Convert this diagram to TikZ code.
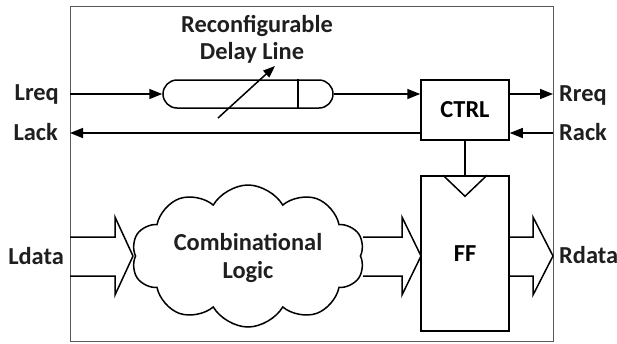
\documentclass[tikz,border=0pt]{standalone}
\usepackage{fontspec}
\setmainfont{Carlito}
\usetikzlibrary{arrows.meta,shapes.symbols,calc}
\begin{document}
\begin{tikzpicture}[x=1bp,y=-1bp,
  font=\fontsize{24.5}{28}\selectfont\bfseries,
  wire/.style={line width=1.5bp, line join=miter},
  tipa/.style={-{Triangle[length=13bp,width=10bp]}},
  blk/.style={draw, wire, inner sep=0pt},
  lbl/.style={inner sep=0pt, text=black!88}]
\useasboundingbox (0,0) rectangle (617,343);
% outer frame
\draw[black!65, line width=1bp] (70,6) rectangle (553,341);
% title
\node[lbl, anchor=base] (t1) at (257,32) {Reconfigurable};
\node[lbl, anchor=base] (t2) at (252,59) {Delay Line};
% delay line
\node[blk, rounded corners=14bp, minimum width=170bp, minimum height=28bp] (delay) at (248,94) {};
\draw[wire] ([xshift=-36bp]delay.north east) -- ([xshift=-36bp]delay.south east);
\draw[wire, -{Triangle[length=12bp,width=9bp]}] ([shift={(-30,24)}]delay.center) -- ([shift={(27,-28)}]delay.center);
% control and flip-flop
\node[blk, minimum width=88bp, minimum height=60bp] (ctrl) at (465,110) {CTRL};
\node[blk, minimum width=88bp, minimum height=155bp] (ff) at (465,253.5) {FF};
\draw[wire] ([xshift=-22bp]ff.north) -- ([yshift=-21bp]ff.north) -- ([xshift=22bp]ff.north);
\draw[wire] (ctrl.south) -- (ff.north);
% handshake coordinates
\coordinate (lreq) at (70,94);
\coordinate (lack) at (70,133);
\coordinate (rreq) at (553,94);
\coordinate (rack) at (553,133);
\draw[wire, tipa] (lreq) -- (delay.west);
\draw[wire, tipa] (delay.east) -- (delay.east -| ctrl.west);
\draw[wire, tipa] (rreq -| ctrl.east) -- (rreq);
\draw[wire, tipa] (rack) -- (rack -| ctrl.east);
\draw[wire, tipa] (lack -| ctrl.west) -- (lack);
% cloud
\node[cloud, draw, wire, cloud puffs=10, cloud puff arc=120, aspect=1.64,
      minimum width=233bp, minimum height=142bp, inner sep=0pt] (logic) at (248,256) {};
\node[lbl, align=center] (logictext) at (248,258) {Combinational\\Logic};
% wide data arrows
\draw[wire] (70,237) -- (115,237) -- (115,217) -- (133,256) -- (115,295) -- (115,276) -- (70,276);
\draw[wire] (363,237) -- (402,237) -- (402,217) -- (421,256) -- (402,295) -- (402,276) -- (363,276);
\draw[wire] (509,237) -- (533,237) -- (533,217) -- (553,256) -- (533,295) -- (533,276) -- (509,276);
% labels
\node[lbl, anchor=base east] at (59,100) {Lreq};
\node[lbl, anchor=base east] at (58,140) {Lack};
\node[lbl, anchor=base east] at (64,264) {Ldata};
\node[lbl, anchor=base west] at (559,101) {Rreq};
\node[lbl, anchor=base west] at (559,140) {Rack};
\node[lbl, anchor=base west] at (559,263) {Rdata};
\end{tikzpicture}
\end{document}
